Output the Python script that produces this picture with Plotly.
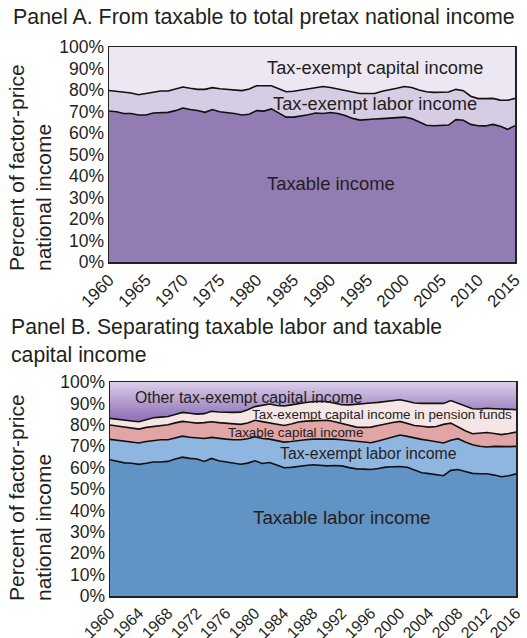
import plotly.graph_objects as go

W, H = 527, 638
FONT = "Liberation Sans, Arial, Helvetica, sans-serif"
TXT = "#231f20"

# ---------------- Panel A data (cumulative boundaries, % of national income)
years_a = list(range(1960, 2016))
taxable_income = [
    70.2, 69.9, 69.1, 69.1, 68.4, 68.4, 69.3, 69.5, 69.6, 70.4,
    71.6, 70.9, 70.5, 69.6, 70.9, 69.9, 69.6, 69.1, 68.4, 68.7,
    70.4, 70.2, 71.2, 69.3, 67.4, 67.4, 67.8, 68.5, 69.3, 69.1,
    69.5, 69.1, 68.1, 66.8, 66.0, 66.4, 66.5, 66.7, 67.0, 67.1,
    67.4, 66.7, 65.0, 63.6, 63.4, 63.7, 63.7, 66.2, 65.9, 64.0,
    63.4, 63.3, 64.0, 63.1, 61.7, 63.4]
plus_exempt_labor_a = [
    79.8, 79.5, 79.2, 78.6, 77.8, 78.3, 79.1, 79.5, 79.5, 80.5,
    81.4, 80.8, 80.3, 80.3, 81.1, 80.6, 80.2, 79.8, 79.7, 80.5,
    82.0, 82.0, 82.0, 80.6, 79.2, 79.4, 80.0, 80.6, 81.2, 81.6,
    81.2, 80.5, 79.8, 78.9, 78.4, 78.4, 78.4, 79.4, 80.0, 80.8,
    81.6, 81.2, 80.0, 79.2, 78.9, 78.9, 79.1, 80.3, 79.7, 77.1,
    76.0, 76.0, 76.1, 75.3, 75.2, 76.1]
total_a = [100.0] * len(years_a)
labels_a = ["Taxable income", "Tax-exempt labor income", "Tax-exempt capital income"]
xticks_a = list(range(1960, 2016, 5))

# ---------------- Panel B data (cumulative boundaries)
years_b = list(range(1960, 2017))
taxable_labor = [
    63.7, 63.0, 62.2, 62.0, 61.5, 62.0, 62.6, 62.6, 62.9, 64.0,
    64.9, 64.3, 64.0, 62.9, 64.3, 63.2, 62.7, 62.2, 61.6, 62.1,
    63.2, 61.9, 62.4, 61.2, 59.9, 60.1, 60.7, 61.0, 61.3, 61.0,
    60.8, 61.0, 60.8, 60.0, 59.4, 59.3, 59.1, 59.6, 60.2, 60.4,
    60.5, 60.2, 59.0, 57.6, 57.2, 56.8, 56.2, 58.7, 59.1, 58.2,
    57.3, 57.1, 57.1, 56.5, 55.7, 56.2, 57.1]
plus_exempt_labor_b = [
    73.2, 72.7, 72.2, 71.8, 71.5, 72.2, 72.7, 73.0, 73.0, 74.0,
    74.7, 74.2, 73.9, 73.6, 74.1, 73.6, 73.3, 73.0, 73.0, 73.5,
    74.4, 73.6, 73.3, 72.6, 71.9, 72.2, 72.7, 73.0, 73.3, 73.4,
    73.5, 73.3, 73.0, 72.6, 72.1, 71.8, 71.6, 72.4, 73.3, 74.3,
    75.2, 74.6, 73.8, 73.2, 72.7, 72.0, 71.5, 72.8, 73.5, 72.0,
    70.7, 70.0, 69.6, 69.9, 69.7, 69.8, 69.9]
plus_taxable_capital = [
    79.9, 79.4, 78.9, 78.4, 78.0, 78.8, 79.3, 79.6, 80.0, 80.9,
    81.6, 81.2, 80.8, 81.0, 81.4, 81.0, 80.8, 80.5, 80.2, 80.8,
    82.1, 81.5, 81.0, 80.2, 79.7, 80.4, 81.3, 81.7, 81.9, 82.0,
    82.1, 81.4, 80.5, 79.7, 78.9, 78.8, 78.9, 79.7, 80.5, 81.1,
    81.6, 80.8, 79.7, 79.3, 78.9, 79.2, 80.2, 80.8, 78.9, 77.2,
    75.8, 76.0, 76.4, 75.9, 75.4, 75.9, 76.6]
plus_pension = [
    83.0, 82.7, 82.4, 81.8, 81.4, 82.5, 83.3, 83.6, 83.9, 84.8,
    85.8, 85.4, 85.0, 85.2, 86.3, 86.0, 85.8, 85.8, 85.9, 87.0,
    88.5, 89.2, 89.7, 89.0, 88.8, 89.3, 90.0, 90.4, 90.8, 91.0,
    90.8, 90.0, 89.4, 89.3, 89.5, 89.8, 90.2, 90.5, 90.8, 91.3,
    91.7, 91.0, 90.2, 90.0, 90.0, 90.0, 90.0, 91.3, 90.0, 88.5,
    87.5, 87.4, 87.7, 87.5, 87.4, 87.2, 87.1]
total_b = [100.0] * len(years_b)
labels_b = ["Taxable labor income", "Tax-exempt labor income", "Taxable capital income",
            "Tax-exempt capital income in pension funds", "Other tax-exempt capital income"]
xticks_b = list(range(1960, 2017, 4))
yticks = list(range(0, 101, 10))


def px_x(x):
    return x / W


def px_y(y):
    return 1 - y / H


fig = go.Figure()

LINE = dict(color="#111111", width=1.6)

# Panel A traces
colors_a = ["#937bb3", "#d6cce3", "#ece7f2"]
bounds_a = [taxable_income, plus_exempt_labor_a, total_a]
for i, (vals, col, name) in enumerate(zip(bounds_a, colors_a, labels_a)):
    fig.add_trace(go.Scatter(
        x=years_a, y=vals, mode="lines", name=name,
        line=LINE if i < 2 else dict(width=0),
        fill="tozeroy" if i == 0 else "tonexty", fillcolor=col,
        xaxis="x", yaxis="y", showlegend=False, hoverinfo="skip"))

# Panel B traces
colors_b = ["#6193c4", "#8fb6e1", "#e2a5a6", "#f6e5e5", None]
bounds_b = [taxable_labor, plus_exempt_labor_b, plus_taxable_capital, plus_pension, total_b]
for i, (vals, col, name) in enumerate(zip(bounds_b, colors_b, labels_b)):
    kw = dict(fillcolor=col) if col else dict(
        fillgradient=dict(type="vertical", start=84, stop=100,
                          colorscale=[[0, "#9478bb"], [1, "#dccfea"]]))
    fig.add_trace(go.Scatter(
        x=years_b, y=vals, mode="lines", name=name,
        line=LINE if i < 4 else dict(width=0),
        fill="tozeroy" if i == 0 else "tonexty",
        xaxis="x2", yaxis="y2", showlegend=False, hoverinfo="skip", **kw))

axis_common = dict(showline=True, mirror=True, linecolor="#222222", linewidth=1.5,
                   showgrid=False, zeroline=False, ticks="", automargin=False,
                   ticklabeloverflow="allow")
yfont = dict(family=FONT, size=17.5, color=TXT)

fig.update_layout(
    template="none",
    width=W, height=H,
    margin=dict(l=0, r=0, t=0, b=0),
    paper_bgcolor="white", plot_bgcolor="white",
    font=dict(family=FONT, color=TXT),
    xaxis=dict(domain=[px_x(109), px_x(515)], range=[1960, 2015.001], anchor="y",
               tickvals=xticks_a, ticktext=[str(v) for v in xticks_a], tickangle=-45,
               tickfont=dict(family=FONT, size=17, color=TXT), **axis_common),
    yaxis=dict(domain=[px_y(262), px_y(47)], range=[0, 100], anchor="x",
               tickvals=yticks, ticktext=[f"{v}%" for v in yticks], tickfont=yfont,
               **axis_common),
    xaxis2=dict(domain=[px_x(110), px_x(516)], range=[1960, 2016.001], anchor="y2",
                tickvals=xticks_b, ticktext=[str(v) for v in xticks_b], tickangle=-45,
                tickfont=dict(family=FONT, size=16, color=TXT), **axis_common),
    yaxis2=dict(domain=[px_y(596), px_y(382)], range=[0, 100], anchor="x2",
                tickvals=yticks, ticktext=[f"{v}%" for v in yticks], tickfont=yfont,
                **axis_common),
)

annotations = []


def txt(text, x, y, size, xanchor="center", yanchor="middle", angle=0):
    annotations.append(dict(text=text, x=px_x(x), y=px_y(y), xref="paper", yref="paper",
                            showarrow=False, xanchor=xanchor, yanchor=yanchor,
                            textangle=angle, align="left",
                            font=dict(family=FONT, size=size, color=TXT)))


# Titles
txt("Panel A. From taxable to total pretax national income", 11, 17, 21.4, xanchor="left")
txt("Panel B. Separating taxable labor and taxable<br>capital income", 9, 341, 21.2,
    xanchor="left")
# Y-axis titles
txt("Percent of factor-price<br>national income", 30, 168, 21, angle=-90)
txt("Percent of factor-price<br>national income", 30, 498, 21, angle=-90)

# Panel A labels
txt(labels_a[2], 375, 67, 18.3)
txt(labels_a[1], 375, 104, 18.3)
txt(labels_a[0], 331, 183, 18.4)

# Panel B labels
txt(labels_b[4], 249, 397, 15.8)
txt(labels_b[3], 382, 414, 13.4)
txt(labels_b[2], 295, 432, 13.4)
txt(labels_b[1], 368, 453, 15.8)
txt(labels_b[0], 341, 517, 18.8)

fig.update_layout(annotations=annotations)

# remove the page's default body margin so the 527x638 figure fills the window exactly
fig.write_html("out.html",
               config={"displayModeBar": False, "staticPlot": True},
               post_script="document.body.style.margin='0';"
                           "document.body.style.overflow='hidden';")
